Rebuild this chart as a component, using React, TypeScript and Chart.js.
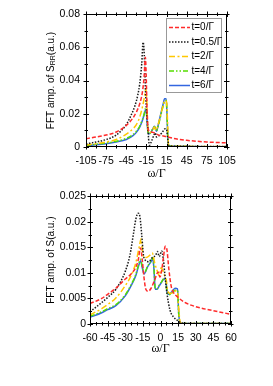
import React, { useEffect, useRef } from "react";
import { Chart, registerables } from "chart.js";
Chart.register(...registerables);

// ---------- labels ----------
const seriesLabels = ["t=0/Γ", "t=0.5/Γ", "t=2/Γ", "t=4/Γ", "t=6/Γ"];

// ---------- top panel (S_RR) ----------
const topXTicks = [-105, -75, -45, -15, 15, 45, 75, 105];
const topYTicks = [0, 0.02, 0.04, 0.06, 0.08];

const topT0X = [-105, -90, -75, -60, -45, -35, -30, -25, -21, -18.5, -16.5, -15.5, -14, -12.5, -10, -7, -3, 0, 5, 10, 15, 25, 35, 45, 75, 105];
const topT0Y = [0.005, 0.006, 0.0072, 0.009, 0.013, 0.0175, 0.021, 0.026, 0.033, 0.042, 0.054, 0.045, 0.022, 0.011, 0.0095, 0.009, 0.0085, 0.0078, 0.007, 0.0066, 0.0062, 0.0052, 0.0045, 0.004, 0.003, 0.0025];

const topT05X = [-105, -90, -75, -60, -45, -38, -32, -28, -25, -22, -20, -18.5, -16, -13, -10.5, -7, -4, -2, 0, 3, 8, 13, 15, 17, 18.5, 25, 45, 75, 105];
const topT05Y = [0.0018, 0.003, 0.0045, 0.0072, 0.0135, 0.019, 0.025, 0.031, 0.038, 0.05, 0.063, 0.058, 0.03, 0.012, 0.001, 0.004, 0.007, 0.0085, 0.006, 0.0065, 0.0085, 0.011, 0.0105, 0.004, 0.0008, 0.0005, 0.0004, 0.0003, 0.0003];

const topT2X = [-105, -90, -75, -60, -45, -35, -30, -25, -21, -18, -16, -14.5, -13, -11, -8, -5, -3, -1, 2, 6, 10, 12.5, 15, 16.5, 18, 25, 45, 75, 105];
const topT2Y = [0.0012, 0.002, 0.003, 0.0045, 0.0078, 0.011, 0.0135, 0.018, 0.024, 0.03, 0.035, 0.028, 0.012, 0.0085, 0.009, 0.011, 0.012, 0.01, 0.013, 0.019, 0.025, 0.028, 0.027, 0.015, 0.001, 0.0005, 0.0004, 0.0003, 0.0003];

const topT4X = [-105, -90, -75, -60, -45, -35, -30, -25, -21, -18, -16.5, -15, -13.5, -12, -10, -6, -3, -1.5, 0, 3, 7, 10, 12, 14.5, 16, 17.5, 25, 45, 75, 105];
const topT4Y = [0.001, 0.0016, 0.0024, 0.0034, 0.0052, 0.0075, 0.0095, 0.0125, 0.0165, 0.0205, 0.0232, 0.021, 0.012, 0.008, 0.0082, 0.0105, 0.0122, 0.011, 0.0095, 0.0135, 0.02, 0.025, 0.0275, 0.028, 0.015, 0.001, 0.0004, 0.0003, 0.0002, 0.0002];

const topT6X = [-105, -90, -75, -60, -45, -35, -30, -25, -21, -18, -16.5, -15, -13.5, -12, -10, -6, -3, -1.5, 0, 3, 7, 10, 12, 14.5, 16, 17.5, 25, 45, 75, 105];
const topT6Y = [0.0008, 0.0013, 0.002, 0.003, 0.0045, 0.0068, 0.0088, 0.012, 0.016, 0.02, 0.0222, 0.021, 0.012, 0.0078, 0.008, 0.0105, 0.0125, 0.011, 0.0095, 0.014, 0.021, 0.026, 0.029, 0.029, 0.015, 0.001, 0.0004, 0.0003, 0.0002, 0.0002];

// ---------- bottom panel (S) ----------
const botXTicks = [-60, -45, -30, -15, 0, 15, 30, 45, 60];
const botYTicks = [0, 0.005, 0.01, 0.015, 0.02, 0.025];

const botT0X = [-60, -50, -45, -38, -30, -25, -21, -19, -17, -15.5, -14, -12.5, -10.5, -8, -5, -2, -0.5, 1, 2.5, 4, 5.5, 7, 9, 11, 15, 20, 30, 45, 60];
const botT0Y = [0.004, 0.005, 0.0058, 0.007, 0.0088, 0.0098, 0.0111, 0.0125, 0.0149, 0.0125, 0.009, 0.0068, 0.0064, 0.007, 0.0086, 0.0102, 0.0092, 0.0105, 0.013, 0.0152, 0.0145, 0.011, 0.0075, 0.0062, 0.0052, 0.0043, 0.0034, 0.0026, 0.0019];

const botT05X = [-60, -50, -45, -38, -30, -26, -23, -21, -19, -17.5, -16, -14.5, -13, -10, -7, -4, -2.7, -1, 1, 2.5, 4, 5.5, 8, 11, 15, 18, 25, 40, 60];
const botT05Y = [0.0024, 0.0042, 0.0052, 0.0068, 0.0103, 0.0135, 0.0177, 0.0205, 0.0217, 0.021, 0.0175, 0.0135, 0.0125, 0.0122, 0.013, 0.0135, 0.0142, 0.0132, 0.0143, 0.0125, 0.009, 0.006, 0.0028, 0.0014, 0.0006, 0.0002, 0.0001, 0.0001, 0.0001];

const botT2X = [-60, -50, -45, -38, -30, -25, -21, -18, -16.5, -15.5, -14, -12, -9, -7, -5, -3, -1, 0.5, 2, 3.5, 5, 6, 8, 11, 13, 14.5, 15.5, 17, 25, 40, 60];
const botT2Y = [0.0018, 0.003, 0.0038, 0.0051, 0.0075, 0.0095, 0.012, 0.0152, 0.0167, 0.0145, 0.013, 0.013, 0.0135, 0.0139, 0.012, 0.0105, 0.0095, 0.011, 0.0105, 0.0095, 0.0085, 0.0065, 0.006, 0.0062, 0.0065, 0.0063, 0.003, 0.0002, 0.0001, 0.0001, 0.0001];

const botT4X = [-60, -50, -45, -38, -30, -25, -21, -18.5, -17, -15.5, -14, -11, -8, -6.5, -5.5, -4.5, -3, -1, 1, 3, 4.5, 5.5, 7, 10, 12.5, 14.5, 15.5, 17, 25, 40, 60];
const botT4Y = [0.0015, 0.0024, 0.003, 0.0038, 0.0057, 0.0077, 0.0097, 0.0118, 0.0127, 0.0112, 0.0099, 0.0113, 0.0124, 0.013, 0.0106, 0.0069, 0.0069, 0.0076, 0.0083, 0.0089, 0.0087, 0.0062, 0.0057, 0.0061, 0.0066, 0.0066, 0.002, 0.0001, 0.0001, 0.0001, 0.0001];

const botT6X = [-60, -50, -45, -38, -30, -25, -21, -18.5, -17, -15.5, -14, -11, -8, -6.5, -5.5, -4.5, -3, -1, 1, 3, 4.5, 5.5, 7, 10, 12.5, 14.5, 15.5, 17, 25, 40, 60];
const botT6Y = [0.0013, 0.0022, 0.0028, 0.0036, 0.0055, 0.0075, 0.0095, 0.0115, 0.0124, 0.011, 0.0098, 0.0112, 0.0122, 0.0128, 0.0105, 0.0068, 0.0068, 0.0075, 0.0082, 0.0088, 0.0086, 0.0064, 0.0058, 0.0064, 0.007, 0.0069, 0.002, 0.0001, 0.0001, 0.0001, 0.0001];

// ---------- styles ----------
const STYLES = [
  { color: "#ff2b2b", dash: [4, 2] },
  { color: "#1a1a1a", dash: [1.5, 1.5] },
  { color: "#ffc800", dash: [6, 2.5, 2, 2.5] },
  { color: "#55dd00", dash: [5, 2, 1.5, 2, 1.5, 2] },
  { color: "#3366e0", dash: [] as number[] },
];

const SANS = "'Liberation Sans', Arial, sans-serif";
const SERIF = "'Liberation Serif', 'Times New Roman', serif";

type Panel = {
  width: number;
  height: number;
  plotLeft: number;
  plotRight: number;
  plotTop: number;
  plotBottom: number;
  xTicks: number[];
  yTicks: number[];
  xMinorStep: number;
  yMinorStep: number;
  yLabelPad: number;
  series: { x: number[]; y: number[] }[];
  yTitle: { text: string; sub?: boolean }[];
  yTitleX: number;
  xTitleY: number;
  legend: boolean;
};

function decorPlugin(p: Panel) {
  return {
    id: "decor",
    afterDatasetsDraw(chart: any) {
      const ctx: CanvasRenderingContext2D = chart.ctx;
      const { left, right, top, bottom } = chart.chartArea;
      const xs = chart.scales.x;
      const ys = chart.scales.y;
      ctx.save();
      ctx.strokeStyle = "#000";
      ctx.lineWidth = 1;
      ctx.setLineDash([]);
      const L = Math.round(left) + 0.5;
      const R = Math.round(right) - 0.5;
      const T = Math.round(top) + 0.5;
      const B = Math.round(bottom) - 0.5;
      ctx.strokeRect(L, T, R - L, B - T);
      ctx.beginPath();
      const xMin = p.xTicks[0], xMax = p.xTicks[p.xTicks.length - 1];
      for (let v = xMin; v <= xMax + 1e-9; v += p.xMinorStep) {
        const major = p.xTicks.some((t) => Math.abs(t - v) < 1e-9);
        const out = major ? 3 : 2;
        const inn = major ? 2.5 : 1.5;
        const px = Math.round(xs.getPixelForValue(v)) + 0.5;
        ctx.moveTo(px, B + out);
        ctx.lineTo(px, B - inn);
        ctx.moveTo(px, T - out);
        ctx.lineTo(px, T + inn);
      }
      const yMin = p.yTicks[0], yMax = p.yTicks[p.yTicks.length - 1];
      for (let v = yMin; v <= yMax + 1e-12; v += p.yMinorStep) {
        const major = p.yTicks.some((t) => Math.abs(t - v) < 1e-9);
        const out = major ? 3 : 2;
        const inn = major ? 2.5 : 1.5;
        const py = Math.round(ys.getPixelForValue(v)) + 0.5;
        ctx.moveTo(L - out, py);
        ctx.lineTo(L + inn, py);
        ctx.moveTo(R + out, py);
        ctx.lineTo(R - inn, py);
      }
      ctx.stroke();

      // x title
      ctx.fillStyle = "#000";
      ctx.font = `12px ${SERIF}`;
      ctx.textAlign = "center";
      ctx.textBaseline = "middle";
      ctx.fillText("ω/Γ", (left + right) / 2, p.xTitleY);

      // y title (rotated, with optional subscript)
      const mainFont = `10px ${SANS}`;
      const subFont = `7px ${SANS}`;
      let total = 0;
      for (const part of p.yTitle) {
        ctx.font = part.sub ? subFont : mainFont;
        total += ctx.measureText(part.text).width;
      }
      ctx.save();
      ctx.translate(p.yTitleX, (top + bottom) / 2);
      ctx.rotate(-Math.PI / 2);
      ctx.textAlign = "left";
      ctx.textBaseline = "middle";
      let cx = -total / 2;
      for (const part of p.yTitle) {
        ctx.font = part.sub ? subFont : mainFont;
        ctx.fillText(part.text, cx, part.sub ? 2 : 0);
        cx += ctx.measureText(part.text).width;
      }
      ctx.restore();

      // legend
      if (p.legend) {
        const bx = 166.5, by = 18.5, bw = 55, bh = 74;
        ctx.fillStyle = "#fff";
        ctx.fillRect(bx, by, bw, bh);
        ctx.strokeStyle = "#999";
        ctx.lineWidth = 1;
        ctx.strokeRect(bx, by, bw, bh);
        ctx.font = `10px ${SANS}`;
        ctx.textAlign = "left";
        ctx.textBaseline = "middle";
        chart.data.datasets.forEach((ds: any, i: number) => {
          const yy = 27.5 + i * 14.5;
          ctx.strokeStyle = ds.borderColor;
          ctx.lineWidth = 1.5;
          ctx.setLineDash(ds.borderDash || []);
          ctx.beginPath();
          ctx.moveTo(169, yy);
          ctx.lineTo(190, yy);
          ctx.stroke();
          ctx.setLineDash([]);
          ctx.fillStyle = "#000";
          ctx.fillText(ds.label, 191.5, yy);
        });
      }
      ctx.restore();
    },
  };
}

function ChartPanel({ p, top }: { p: Panel; top: number }) {
  const ref = useRef<HTMLCanvasElement | null>(null);
  useEffect(() => {
    if (!ref.current) return;
    const xAxisH = 30;
    const datasets = p.series.map((s, i) => ({
      label: seriesLabels[i],
      data: s.x.map((x, j) => ({ x, y: s.y[j] })),
      borderColor: STYLES[i].color,
      borderDash: STYLES[i].dash,
      borderWidth: 1.5,
      pointRadius: 0,
      fill: false,
      cubicInterpolationMode: "monotone" as const,
    }));
    const chart = new Chart(ref.current, {
      type: "line",
      data: { datasets },
      options: {
        animation: false,
        responsive: false,
        maintainAspectRatio: false,
        layout: {
          padding: {
            left: 0,
            right: p.width - p.plotRight,
            top: p.plotTop,
            bottom: p.height - p.plotBottom - xAxisH,
          },
        },
        plugins: { legend: { display: false }, tooltip: { enabled: false }, title: { display: false } },
        scales: {
          x: {
            type: "linear",
            min: p.xTicks[0],
            max: p.xTicks[p.xTicks.length - 1],
            grid: { display: false, drawTicks: false },
            border: { display: false },
            afterBuildTicks: (s: any) => {
              s.ticks = p.xTicks.map((v) => ({ value: v }));
            },
            afterFit: (s: any) => {
              s.height = xAxisH;
            },
            ticks: {
              padding: 8,
              maxRotation: 0,
              autoSkip: false,
              color: "#000",
              font: { family: SANS, size: 10.5 },
              callback: (v: any) => String(v),
            },
          },
          y: {
            type: "linear",
            min: p.yTicks[0],
            max: p.yTicks[p.yTicks.length - 1],
            grid: { display: false, drawTicks: false },
            border: { display: false },
            afterBuildTicks: (s: any) => {
              s.ticks = p.yTicks.map((v) => ({ value: v }));
            },
            afterFit: (s: any) => {
              s.width = p.plotLeft;
            },
            ticks: {
              padding: p.yLabelPad,
              autoSkip: false,
              color: "#000",
              font: { family: SANS, size: 10.5 },
              callback: (v: any) => (v === 0 ? "0" : String(+Number(v).toFixed(4))),
            },
          },
        },
      },
      plugins: [decorPlugin(p)],
    });
    return () => chart.destroy();
  }, []);
  return (
    <canvas
      ref={ref}
      width={p.width}
      height={p.height}
      style={{ position: "absolute", left: 0, top, width: p.width, height: p.height }}
    />
  );
}

const topPanel: Panel = {
  width: 273,
  height: 190,
  plotLeft: 86,
  plotRight: 227,
  plotTop: 14,
  plotBottom: 147,
  xTicks: topXTicks,
  yTicks: topYTicks,
  xMinorStep: 15,
  yMinorStep: 0.01,
  yLabelPad: 6,
  series: [
    { x: topT0X, y: topT0Y },
    { x: topT05X, y: topT05Y },
    { x: topT2X, y: topT2Y },
    { x: topT4X, y: topT4Y },
    { x: topT6X, y: topT6Y },
  ],
  yTitle: [{ text: "FFT amp. of S" }, { text: "RR", sub: true }, { text: "(a.u.)" }],
  yTitleX: 51,
  xTitleY: 173.5,
  legend: true,
};

const botPanel: Panel = {
  width: 273,
  height: 200,
  plotLeft: 90,
  plotRight: 231,
  plotTop: 5,
  plotBottom: 138,
  xTicks: botXTicks,
  yTicks: botYTicks,
  xMinorStep: 5,
  yMinorStep: 0.0025,
  yLabelPad: 4,
  series: [
    { x: botT0X, y: botT0Y },
    { x: botT05X, y: botT05Y },
    { x: botT2X, y: botT2Y },
    { x: botT4X, y: botT4Y },
    { x: botT6X, y: botT6Y },
  ],
  yTitle: [{ text: "FFT amp. of S(a.u.)" }],
  yTitleX: 51,
  xTitleY: 163,
  legend: false,
};

export default function App() {
  return (
    <div style={{ position: "fixed", left: 0, top: 0, width: 273, height: 386, background: "#fff", overflow: "hidden" }}>
      <ChartPanel p={topPanel} top={0} />
      <ChartPanel p={botPanel} top={186} />
    </div>
  );
}
